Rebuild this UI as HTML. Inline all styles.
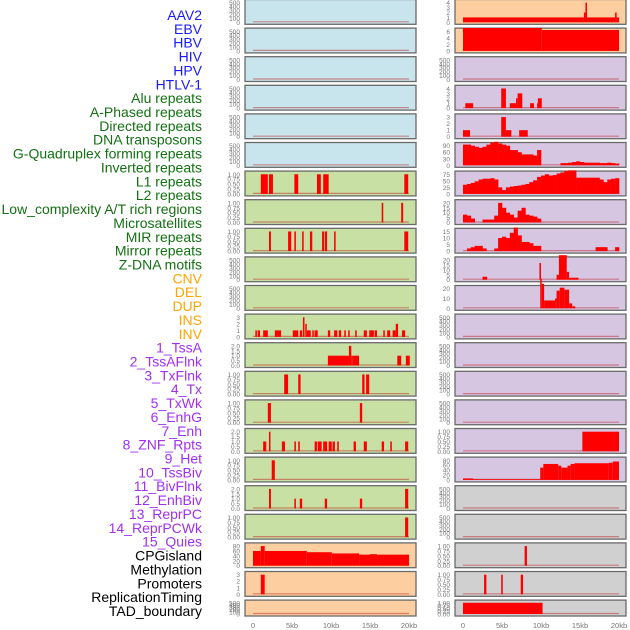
<!DOCTYPE html>
<html><head><meta charset="utf-8">
<style>
html,body{margin:0;padding:0;background:#fff;width:630px;height:630px;overflow:hidden}
svg{display:block}
</style></head>
<body>
<svg id="chart" width="630" height="630" viewBox="0 0 630 630" xmlns="http://www.w3.org/2000/svg"></svg>
<script>
// ---- labels ----
const trackLabels = ["AAV2","EBV","HBV","HIV","HPV","HTLV-1","Alu repeats","A-Phased repeats","Directed repeats","DNA transposons","G-Quadruplex forming repeats","Inverted repeats","L1 repeats","L2 repeats","Low_complexity A/T rich regions","Microsatellites","MIR repeats","Mirror repeats","Z-DNA motifs","CNV","DEL","DUP","INS","INV","1_TssA","2_TssAFlnk","3_TxFlnk","4_Tx","5_TxWk","6_EnhG","7_Enh","8_ZNF_Rpts","9_Het","10_TssBiv","11_BivFlnk","12_EnhBiv","13_ReprPC","14_ReprPCWk","15_Quies","CPGisland","Methylation","Promoters","ReplicationTiming","TAD_boundary"];
const labelGroups = [6,13,5,15,5];
const labelColors = ["#1a1aff","#137013","#ffa500","#a030f0","#000000"];
const xTicks = [0,5,10,15,20];
const xTickLabels = ["0","5kb","10kb","15kb","20kb"];

// ---- left column panels: bars [startKb,endKb,value] ----
const leftBg = ["b","b","b","b","b","b","g","g","g","g","g","g","g","g","g","g","g","g","g","o","o","o"];
const leftTicks = [
 [0,100,200,300,400,500],[0,100,200,300,400,500],[0,100,200,300,400,500],[0,100,200,300,400,500],[0,100,200,300,400,500],[0,100,200,300,400,500],
 [0,0.25,0.5,0.75,1],[0,0.25,0.5,0.75,1],[0,0.25,0.5,0.75,1],[0,100,200,300,400,500],[0,100,200,300,400,500],[0,1,2,3],
 [0,0.5,1,1.5,2],[0,0.25,0.5,0.75,1],[0,0.25,0.5,0.75,1],[0,0.5,1,1.5,2],[0,0.25,0.5,0.75,1],[0,0.5,1,1.5,2],[0,0.25,0.5,0.75,1],
 [0,20,40,60,80],[0,1,2,3],[0,100,200,300,400,500]];
const leftBars = [
 [],[],[],[],[],[],
 [[1.0,1.9,1],[2.05,2.56,1],[5.3,5.8,1],[8.2,8.7,1],[9.0,9.7,1],[19.4,19.9,1]],
 [[16.5,16.7,1],[19.0,19.25,1]],
 [[2.05,2.3,1],[4.5,4.9,1],[5.3,5.5,1],[6.3,6.5,1],[7.3,7.6,1],[8.85,9.1,1],[9.2,9.5,1],[10.4,10.6,1],[19.4,19.9,1]],
 [],[],
 [[0.3,0.5,1],[0.6,0.9,1],[1.3,1.9,1],[2.8,3.6,1],[5.1,5.8,1],[6.0,6.3,1],[6.4,6.6,3],[6.7,6.8,2],[6.9,7.4,1],[7.6,7.8,1],[7.9,8.3,1],[9.6,9.9,1],[10.4,10.8,1],[11.0,11.3,1],[11.7,11.9,1],[12.2,12.4,1],[13.1,13.3,1],[14.2,14.6,1],[14.9,15.5,1],[15.6,15.9,1],[16.7,16.9,1],[17.2,17.6,1],[17.9,18.3,1],[18.3,18.6,2],[19.1,19.5,1]],
 [[9.6,12.3,1],[12.3,12.6,2],[12.6,12.7,1],[12.8,13.6,1],[18.5,19.0,1],[19.6,20.1,1]],
 [[4.0,4.5,1],[5.8,6.1,1],[14.0,14.3,1],[14.5,14.9,1]],
 [[1.9,2.3,1],[13.7,14.0,1]],
 [[1.3,1.7,1],[2.05,2.2,2],[3.7,4.1,1],[5.3,5.5,1],[5.8,6.0,1],[7.9,8.2,1],[8.3,8.8,1],[9.0,9.5,1],[9.7,10.1,1],[10.2,10.5,1],[10.8,11.0,1],[12.9,13.2,1],[14.2,14.6,1],[16.5,16.8,1],[17.6,17.8,1],[19.5,19.9,1]],
 [[2.4,2.8,1]],
 [[2.05,2.3,2],[5.3,5.5,1],[6.0,6.3,1],[9.2,9.5,1],[13.7,14.0,1],[19.5,19.9,2]],
 [[19.5,19.9,1]],
 [[0,1.0,60],[1.0,1.5,80],[1.5,6.9,60],[6.9,10.1,55],[10.1,13.6,50],[13.6,15.0,45],[15.0,15.9,47],[15.9,20,45]],
 [[1.0,1.5,3]],
 []];

// ---- right column panels ----
const rightBg = ["o","o","p","p","p","p","p","p","p","p","p","p","p","p","p","p","p","y","y","y","y","y"];
const rightTicks = [
 [0,1,2,3,4],[0,2,4,6],[0,100,200,300,400,500],[0,1,2,3,4],[0,1,2,3],[0,30,60,90],[0,25,50,75],[0,5,10,15,20],[0,5,10,15],[0,5,10,15,20],[0,10,20],
 [0,100,200,300,400,500],[0,100,200,300,400,500],[0,100,200,300,400,500],[0,100,200,300,400,500],[0,0.25,0.5,0.75,1],[0,20,40,60,80],
 [0,100,200,300,400,500],[0,100,200,300,400,500],[0,0.25,0.5,0.75,1],[0,0.25,0.5,0.75,1],[0,0.25,0.5,0.75,1]];
const directedBins = [95,95,90,85,80,85,95,105,108,100,95,90,70,70,60,50,50,50,45,70,0,0,0,0,0,10,10,12,15,18,15,12,12,12,12,10,10,12,10,8];
const gquadBins = [35,38,42,48,55,58,58,60,55,25,15,25,28,30,32,35,38,45,52,65,70,75,70,72,78,82,88,90,90,62,62,62,62,62,62,55,45,55,58,60];
const lowCompBins = [8,7,4,0,0,3,3,3,7,20,15,10,8,5,12,15,8,7,6,4,0,0,0,0,0,0,0,0,0,0,0,0,0,0,0,0,0,0,0,0];
const mirBins = [0,2,3,4,4,2,0,0,2,10,11,10,14,18,12,7,7,6,4,4,0,0,0,0,0,0,0,0,0,0,0,0,0,0,3,3,3,0,0,3];
const rightBins = {5:directedBins,6:gquadBins,7:lowCompBins,8:mirBins};
const rightBars = [
 [[0,15.5,1],[15.5,15.7,2],[15.7,15.9,4],[15.9,19.5,1],[19.5,19.7,2],[19.7,20,1]],
 [[0,10.1,7],[10.1,20,6.4]],
 [],
 [[0.3,1.3,1],[4.9,5.5,4],[6.0,6.8,1],[6.8,7.0,2],[7.0,7.6,3],[8.6,9.1,1],[9.5,9.6,1],[9.6,10.1,2]],
 [[0,0.9,1],[4.9,5.5,3],[5.5,6.2,1],[7.2,8.3,1]],
 [],[],[],[],
 [[2.5,3.1,3],[9.8,10.0,17],[12.0,12.3,5],[12.3,13.3,25],[13.3,13.6,8],[13.6,14.8,2]],
 [[9.9,10.1,30],[10.1,10.4,25],[10.4,11.8,8],[11.8,12.0,10],[12.0,12.4,18],[12.4,13.0,21],[13.0,13.6,19],[13.6,14.0,5],[14.0,14.4,2]],
 [],[],[],[],
 [[15.3,20,1]],
 [[0,1.3,6],[1.3,9.9,3],[9.9,10.3,50],[10.3,12.2,65],[12.2,12.6,58],[12.6,13.4,50],[13.4,13.8,58],[13.8,14.3,65],[14.3,18.7,68],[18.7,19.2,70],[19.2,20,75]],
 [],[],
 [[7.9,8.2,1]],
 [[2.7,3.0,1],[4.9,5.1,1],[7.4,7.7,1]],
 [[0,10.2,1]]];

const bgColors = {b:"#c8e4ec",g:"#c8e0a4",o:"#fdcfa0",p:"#d6c6e2",y:"#d0d0d0"};
const NS = "http://www.w3.org/2000/svg";
const svg = document.getElementById("chart");
function mk(tag, attrs, parent){const e=document.createElementNS(NS,tag);for(const k in attrs)e.setAttribute(k,attrs[k]);(parent||svg).appendChild(e);return e;}

// labels
let li=0;
labelGroups.forEach((n,g)=>{for(let k=0;k<n;k++){
  const t=mk("text",{x:202,y:15+li*13.86+5,"text-anchor":"end","font-family":"Liberation Sans, sans-serif","font-size":"14",fill:labelColors[g]});
  t.textContent=trackLabels[li];
  
  
  li++;}});

const STRIDE=28.6;
function panelTop(i){return i*STRIDE-0.5;}
function panelBot(i){return i===21?616:i*STRIDE+24.3;}
function xScale(col,kb){return (col===0?253:463)+kb*7.8;}

function drawPanel(col,i,bg,ticks,bars,bins){
  const x0=col===0?245:455, x1=col===0?416:626;
  const top=panelTop(i), bot=panelBot(i);
  const g=mk("g",{});
  
  
  mk("rect",{x:x0,y:top,width:x1-x0,height:bot-top,fill:bgColors[bg],stroke:"#6a6a6a","stroke-width":1.3},g);
  const yTop=top+2, yBase=bot-2;
  const tmax=ticks[ticks.length-1];
  const ymax=tmax*1.06;
  const yS=v=>yBase-(v/ymax)*(yBase-yTop);
  ticks.forEach(v=>{
    const t=mk("text",{x:x0-5,y:yS(v)+2.5,"text-anchor":"end","font-family":"Liberation Sans, sans-serif","font-size":"6.5",fill:"#777"},g);
    t.textContent=(tmax===1?v.toFixed(2):(tmax===2?v.toFixed(1):String(v)));
    
    
  });
  mk("line",{x1:xScale(col,0),x2:xScale(col,20),y1:yBase-0.5,y2:yBase-0.5,stroke:"rgba(190,40,40,0.5)","stroke-width":1.2},g);
  if(bins){bins.forEach((v,k)=>{if(v<=0)return;
    const r=mk("rect",{x:xScale(col,k*0.5),y:yS(v),width:7.8*0.5+0.3,height:yBase-yS(v),fill:"#ff0000"},g);
    
    });}
  bars.forEach(b=>{
    const xa=xScale(col,b[0]), xb=xScale(col,b[1]);
    const r=mk("rect",{x:xa,y:yS(b[2]),width:Math.max(1.5,xb-xa),height:yBase-yS(b[2]),fill:"#ff0000"},g);
    
    
  });
}
for(let i=0;i<22;i++){
  drawPanel(0,i,leftBg[i],leftTicks[i],leftBars[i],null);
  drawPanel(1,i,rightBg[i],rightTicks[i],rightBars[i],rightBins[i]||null);
}
[0,1].forEach(col=>{xTicks.forEach((v,k)=>{
  const t=mk("text",{x:xScale(col,v),y:628,"text-anchor":"middle","font-family":"Liberation Sans, sans-serif","font-size":"7.5",fill:"#777"});
  t.textContent=xTickLabels[k];
  
  
});});
</script>
</body></html>
